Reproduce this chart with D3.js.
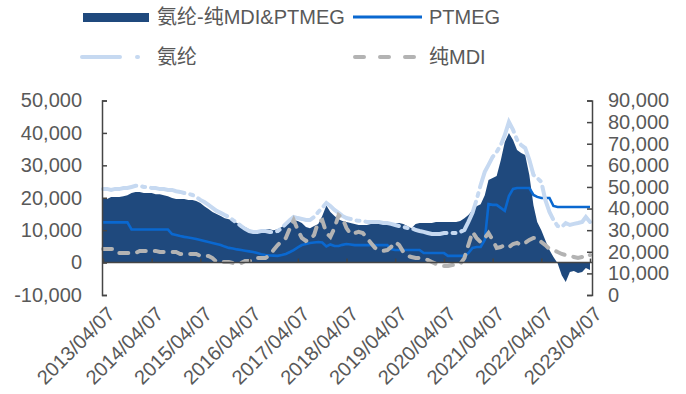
<!DOCTYPE html>
<html>
<head>
<meta charset="utf-8">
<script src="https://cdn.jsdelivr.net/npm/d3@7/dist/d3.min.js"></script>
<style>
  html, body { margin: 0; padding: 0; background: #fff; }
  svg { display: block; }
  text { font-family: "Liberation Sans", Arial, "Noto Sans CJK SC", sans-serif; fill: #595959; }
</style>
</head>
<body>
<svg id="chart" width="686" height="394"></svg>
<script>
// Monthly observations, April 2013 to April 2023 (121 months)
const startYear = 2013, startMonth = 3, monthCount = 121;

// Spread: spandex minus pure MDI & PTMEG cost (yuan/t, left axis)
const spread = [
  19.9, 19.6, 20.2, 20.2, 20.2, 20.5, 20.8, 21.5, 21.8, 21.8,
  21.5, 21.5, 21.5, 21.1, 21.1, 20.8, 20.5, 19.9, 19.6, 19.6,
  19.6, 19.3, 19.3, 19.0, 18.4, 17.4, 16.5, 15.6, 15.0, 14.4,
  13.7, 13.4, 12.8, 12.2, 11.6, 11.0, 10.3, 9.7, 9.7, 10.0,
  10.3, 10.3, 10.0, 10.3, 11.0, 11.9, 12.8, 13.1, 12.8, 12.2,
  11.0, 10.6, 11.3, 11.9, 14.4, 17.6, 15.6, 14.4, 13.4, 12.8,
  12.5, 12.2, 11.9, 11.6, 11.6, 11.6, 11.9, 12.2, 12.2, 12.2,
  12.2, 12.2, 12.2, 12.2, 11.9, 11.3, 10.6, 11.9, 12.2, 12.2,
  12.2, 12.2, 12.5, 12.5, 12.5, 12.5, 12.5, 12.5, 12.8, 13.7,
  14.7, 16.2, 17.4, 18.0, 20.8, 25.5, 26.1, 26.7, 31.6, 37.2,
  40.0, 37.8, 34.7, 33.8, 33.2, 27.0, 17.7, 12.5, 10.0, 6.9,
  3.9, 1.7, -0.2, -3.9, -6.0, -2.9, -2.6, -3.2, -2.9, -1.7,
  -2.3
].map(v => v * 1000);

// PTMEG price (yuan/t, right axis)
const ptmeg = [
  33.6, 33.6, 33.6, 33.6, 33.6, 33.6, 33.6, 30.3, 30.3, 30.3,
  30.3, 30.3, 30.3, 30.3, 30.3, 30.3, 30.3, 28.2, 27.8, 27.3,
  26.9, 26.6, 26.3, 25.9, 25.5, 25.0, 24.5, 24.1, 23.6, 23.1,
  22.4, 21.8, 21.5, 21.1, 20.8, 20.5, 20.2, 19.9, 19.4, 18.9,
  18.5, 18.3, 18.2, 18.1, 18.5, 19.0, 19.9, 20.8, 22.0, 23.1,
  23.6, 24.1, 24.3, 24.5, 24.3, 22.5, 23.4, 22.7, 22.7, 23.2,
  23.6, 23.4, 23.1, 23.1, 23.1, 23.1, 23.1, 23.1, 23.1, 23.1,
  23.1, 21.3, 20.8, 20.8, 20.8, 20.8, 20.8, 20.8, 20.8, 19.4,
  19.4, 19.4, 19.4, 19.4, 19.4, 18.1, 18.1, 18.1, 18.1, 18.1,
  19.4, 21.8, 22.2, 22.2, 25.5, 42.1, 41.7, 41.7, 40.3, 38.9,
  45.8, 49.1, 49.5, 49.5, 49.5, 49.5, 46.3, 45.4, 44.9, 44.9,
  44.9, 41.2, 40.7, 40.7, 40.7, 40.7, 40.7, 40.7, 40.7, 40.7,
  40.7
].map(v => v * 1000);

// Spandex price (yuan/t, right axis)
const spandex = [
  49.1, 49.1, 48.6, 49.1, 49.0, 49.5, 49.5, 50.0, 50.5, 50.5,
  50.0, 50.0, 49.5, 49.5, 49.0, 49.0, 48.6, 48.6, 48.0, 47.7,
  47.2, 46.8, 46.3, 45.4, 44.0, 43.0, 41.7, 40.3, 38.9, 38.0,
  37.0, 36.1, 34.7, 33.3, 31.9, 30.6, 29.6, 29.2, 29.2, 29.6,
  29.6, 29.2, 29.2, 29.6, 31.0, 32.9, 34.7, 36.1, 35.6, 35.2,
  34.7, 34.7, 36.1, 38.4, 40.3, 42.6, 41.2, 39.4, 38.0, 36.6,
  35.6, 35.2, 34.7, 34.3, 34.3, 33.8, 33.8, 33.8, 33.8, 33.3,
  33.3, 32.9, 32.4, 31.9, 31.5, 31.0, 31.0, 30.1, 29.6, 29.2,
  28.7, 28.2, 28.2, 28.2, 28.7, 28.7, 28.7, 28.7, 29.2, 30.1,
  33.8, 38.0, 44.0, 50.9, 57.0, 60.2, 63.9, 66.2, 69.4, 74.0,
  80.1, 76.4, 71.8, 69.4, 68.0, 62.5, 55.6, 54.2, 52.3, 44.0,
  38.4, 34.7, 31.9, 31.5, 33.3, 32.4, 32.9, 33.3, 33.8, 36.1,
  33.8
].map(v => v * 1000);

// Pure MDI price (yuan/t, right axis)
const mdi = [
  21.3, 21.3, 21.3, 21.3, 19.4, 19.4, 19.4, 19.4, 19.4, 20.4,
  20.4, 20.4, 20.4, 20.4, 19.9, 19.9, 19.9, 19.9, 19.9, 19.0,
  19.0, 19.0, 19.0, 19.0, 18.1, 18.1, 18.1, 17.1, 15.3, 15.3,
  15.3, 15.3, 14.8, 14.8, 14.8, 15.7, 15.7, 15.7, 17.1, 17.1,
  17.1, 18.5, 20.8, 23.1, 25.0, 26.4, 31.0, 34.7, 30.1, 26.4,
  25.0, 25.5, 27.8, 33.8, 34.7, 28.7, 26.9, 31.0, 37.0, 35.6,
  31.0, 28.2, 28.7, 29.2, 28.7, 26.4, 24.1, 21.8, 20.8, 20.4,
  20.8, 22.2, 24.5, 23.1, 19.9, 18.1, 17.6, 17.1, 17.1, 16.7,
  16.2, 15.3, 14.4, 13.9, 13.4, 13.4, 13.9, 13.9, 14.4, 17.1,
  23.1, 29.2, 26.4, 24.5, 26.4, 28.7, 25.5, 21.8, 22.2, 23.1,
  22.2, 23.6, 24.1, 23.1, 24.1, 25.5, 26.4, 26.4, 24.5, 23.1,
  21.3, 20.8, 19.9, 19.0, 18.5, 18.1, 17.6, 17.1, 17.6, 19.0,
  18.5
].map(v => v * 1000);

const leftTicks = [-10000, 0, 10000, 20000, 30000, 40000, 50000];
const rightTicks = [0, 10000, 20000, 30000, 40000, 50000, 60000, 70000, 80000, 90000];
const yearLabels = ["2013/04/07", "2014/04/07", "2015/04/07", "2016/04/07", "2017/04/07",
  "2018/04/07", "2019/04/07", "2020/04/07", "2021/04/07", "2022/04/07", "2023/04/07"];

const seriesNames = ["氨纶-纯MDI&PTMEG", "PTMEG", "氨纶", "纯MDI"];
const colors = { spread: "#1f497d", ptmeg: "#0a68d0", spandex: "#c6d9f1", mdi: "#b3b3b3" };
const fontSize = 20;

const dates = d3.range(monthCount).map(i => new Date(startYear, startMonth + i, 7));
const tickDates = yearLabels.map(s => { const p = s.split("/").map(Number); return new Date(p[0], p[1] - 1, p[2]); });

const svg = d3.select("#chart");
const plotTop = 100.5, plotBottom = 295, axisLeftX = 102, axisRightX = 592;

const x = d3.scaleTime().domain([tickDates[0], tickDates[tickDates.length - 1]]).range([103, 590]);
const yL = d3.scaleLinear().domain([-10000, 50000]).range([plotBottom, plotTop]);
const yR = d3.scaleLinear().domain([0, 90000]).range([plotBottom, plotTop]);

const fmt = d3.formatLocale({ decimal: ".", thousands: ",", grouping: [3], currency: ["", ""], minus: "-" }).format(",");

// spread area
svg.append("path")
  .datum(spread)
  .attr("fill", colors.spread)
  .attr("d", d3.area().x((d, i) => x(dates[i])).y0(yL(0)).y1(d => yL(d)));

const lineR = d3.line().x((d, i) => x(dates[i])).y(d => yR(d));

svg.append("path").datum(ptmeg)
  .attr("fill", "none").attr("stroke", colors.ptmeg).attr("stroke-width", 2.6)
  .attr("d", lineR);

svg.append("path").datum(spandex)
  .attr("fill", "none").attr("stroke", colors.spandex).attr("stroke-width", 4)
  .attr("stroke-dasharray", "34,6,3,6").attr("stroke-linecap", "round")
  .attr("d", lineR);

svg.append("path").datum(mdi)
  .attr("fill", "none").attr("stroke", colors.mdi).attr("stroke-width", 4)
  .attr("stroke-dasharray", "9,9").attr("stroke-linecap", "round")
  .attr("d", lineR);

// axes
const axisColor = "#454545";
const gL = svg.append("g").attr("transform", `translate(${axisLeftX},0)`)
  .call(d3.axisLeft(yL).tickValues(leftTicks).tickFormat(fmt).tickSize(-5).tickSizeOuter(-5).tickPadding(20));
const gR = svg.append("g").attr("transform", `translate(${axisRightX},0)`)
  .call(d3.axisRight(yR).tickValues(rightTicks).tickFormat(fmt).tickSize(-5).tickSizeOuter(-5).tickPadding(16));
const gB = svg.append("g").attr("transform", `translate(0,${yL(0)})`)
  .call(d3.axisBottom(x).tickValues(tickDates).tickFormat("").tickSize(-4).tickSizeOuter(0));
gB.select(".domain").attr("d", `M${axisLeftX},0H${axisRightX}`);

[gL, gR, gB].forEach(g => {
  g.selectAll(".domain, .tick line").attr("stroke", axisColor).attr("stroke-width", 1.5);
  g.selectAll("text").attr("font-size", fontSize).attr("font-family", null).style("fill", "#595959");
});

// rotated date labels
svg.append("g").selectAll("text").data(tickDates).join("text")
  .attr("transform", (d) => `translate(${x(d) + 3},${305}) rotate(-45)`)
  .attr("text-anchor", "end")
  .attr("dy", "0.71em")
  .attr("font-size", fontSize)
  .text((d, i) => yearLabels[i]);

// legend
const lg = svg.append("g");
lg.append("rect").attr("x", 83).attr("y", 13).attr("width", 66).attr("height", 9).attr("fill", colors.spread);
lg.append("text").attr("x", 157).attr("y", 17).attr("dy", "0.35em").attr("font-size", fontSize).text(seriesNames[0]);
lg.append("line").attr("x1", 353).attr("x2", 422).attr("y1", 17).attr("y2", 17)
  .attr("stroke", colors.ptmeg).attr("stroke-width", 3);
lg.append("text").attr("x", 429).attr("y", 17).attr("dy", "0.35em").attr("font-size", fontSize).text(seriesNames[1]);
lg.append("line").attr("x1", 82).attr("x2", 140).attr("y1", 57).attr("y2", 57)
  .attr("stroke", colors.spandex).attr("stroke-width", 4).attr("stroke-linecap", "round")
  .attr("stroke-dasharray", "38,17,1,20");
lg.append("text").attr("x", 157).attr("y", 57).attr("dy", "0.35em").attr("font-size", fontSize).text(seriesNames[2]);
lg.append("line").attr("x1", 355).attr("x2", 422).attr("y1", 57).attr("y2", 57)
  .attr("stroke", colors.mdi).attr("stroke-width", 4).attr("stroke-linecap", "round")
  .attr("stroke-dasharray", "9,16");
lg.append("text").attr("x", 429).attr("y", 57).attr("dy", "0.35em").attr("font-size", fontSize).text(seriesNames[3]);
</script>
</body>
</html>
